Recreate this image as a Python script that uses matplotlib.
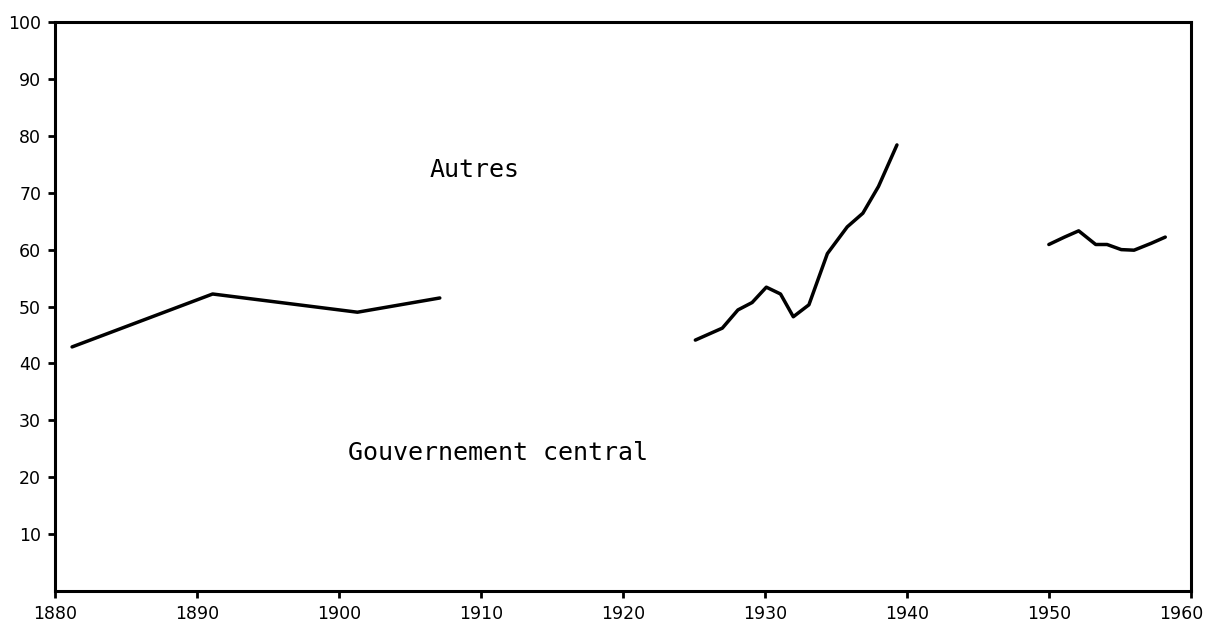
import matplotlib
matplotlib.use("Agg")
import matplotlib.pyplot as plt
from matplotlib.transforms import ScaledTranslation

# Data
years_a = [1881.2, 1891.1, 1901.3, 1907.1]
vals_a = [42.9, 52.2, 49.0, 51.5]

years_b = [1925.1, 1927.0, 1928.1, 1929.1, 1930.1, 1931.1, 1932.0, 1933.1,
           1934.4, 1935.8, 1936.9, 1938.0, 1939.3]
vals_b = [44.1, 46.2, 49.4, 50.7, 53.4, 52.2, 48.2, 50.3,
          59.3, 64.0, 66.4, 71.1, 78.4]

years_c = [1950.0, 1951.1, 1952.1, 1953.3, 1954.1, 1955.1, 1956.0, 1957.2, 1958.2]
vals_c = [60.9, 62.2, 63.3, 60.9, 60.9, 60.0, 59.9, 61.1, 62.2]

x_ticks = [1880, 1890, 1900, 1910, 1920, 1930, 1940, 1950, 1960]
y_ticks = [10, 20, 30, 40, 50, 60, 70, 80, 90, 100]

label_autres = "Autres"
label_gouv = "Gouvernement central"

fig = plt.figure(figsize=(12.07, 6.35), dpi=100)
ax = fig.add_axes([0.0456, 0.0693, 0.941, 0.896])

for xs, ys in [(years_a, vals_a), (years_b, vals_b), (years_c, vals_c)]:
    ax.plot(xs, ys, color="black", linewidth=2.5, solid_joinstyle="round",
            solid_capstyle="round")

ax.set_xlim(1880, 1960)
ax.set_ylim(0, 100)
ax.set_xticks(x_ticks)
ax.set_yticks(y_ticks)
ax.set_xticklabels([str(t) for t in x_ticks])
ax.set_yticklabels([str(t) for t in y_ticks])

for s in ax.spines.values():
    s.set_linewidth(2.2)
    s.set_color("black")

ax.tick_params(axis="both", direction="out", length=5, width=2,
               labelsize=12.5, colors="black", pad=5)

# keep last x label inside the figure, as in the reference
last = ax.get_xticklabels()[-1]
last.set_transform(last.get_transform() + ScaledTranslation(-10 / 100, 0, fig.dpi_scale_trans))

ax.text(1906.4, 74, label_autres, family="DejaVu Sans Mono", fontsize=18,
        va="center", ha="left")
ax.text(1900.6, 24.2, label_gouv, family="DejaVu Sans Mono", fontsize=18,
        va="center", ha="left")

fig.savefig("out.png", dpi=100)
